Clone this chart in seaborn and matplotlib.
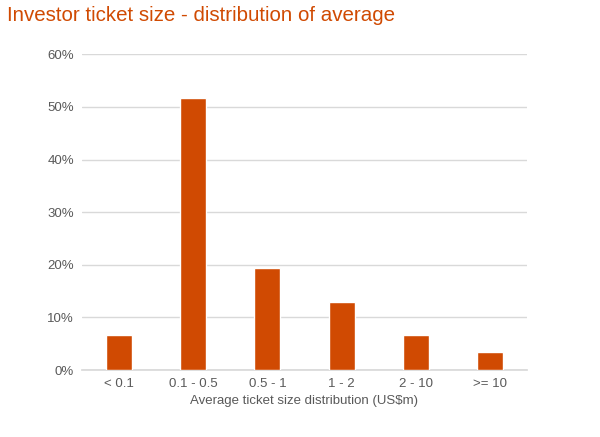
import matplotlib
matplotlib.use("Agg")
import matplotlib.pyplot as plt
import seaborn as sns
import pandas as pd
from matplotlib.ticker import FuncFormatter

categories = ["< 0.1", "0.1 - 0.5", "0.5 - 1", "1 - 2", "2 - 10", ">= 10"]
shares = [6.6, 51.6, 19.4, 12.9, 6.6, 3.4]
yticks = [0, 10, 20, 30, 40, 50, 60]

sns.set_theme(style="white")
plt.rcParams['font.family'] = ['Liberation Sans', 'DejaVu Sans']

df = pd.DataFrame({"cat": categories, "share": shares})

fig = plt.figure(figsize=(6, 4.37), dpi=100)
ax = fig.add_axes([0.137, 0.153, 0.741, 0.723])
sns.barplot(data=df, x="cat", y="share", color="#D04A02", width=0.35,
            saturation=1, ax=ax, zorder=3)
ax.set_ylim(0, 60)
ax.set_yticks(yticks)
ax.yaxis.set_major_formatter(FuncFormatter(lambda v, p: f"{int(v)}%"))
ax.grid(axis="y", color="#d9d9d9", linewidth=1, zorder=0)
for s in ["top", "right", "left"]:
    ax.spines[s].set_visible(False)
ax.spines["bottom"].set_color("#d9d9d9")
ax.tick_params(axis="both", length=0, labelsize=9.5, colors="#595959", pad=6)
ax.set_xlabel("Average ticket size distribution (US$m)", fontsize=9.5, color="#595959", labelpad=3)
ax.set_ylabel("")
ax.set_xlim(-0.5, 5.5)
fig.text(0.012, 0.965, "Investor ticket size - distribution of average", fontsize=14.8,
         color="#D04A02", ha="left", va="center")
fig.savefig("out.png", dpi=100, facecolor="white")
